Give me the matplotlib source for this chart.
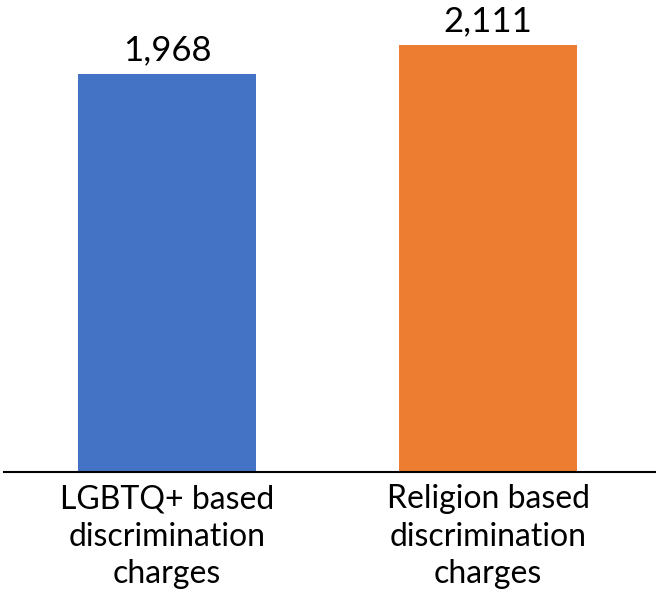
import matplotlib.pyplot as plt

# Discrimination charge counts
categories = ["LGBTQ+ based\ndiscrimination\ncharges", "Religion based\ndiscrimination\ncharges"]
charges = [1968, 2111]
colors = ["#4472C4", "#ED7D31"]

plt.rcParams['font.family'] = ['Lato', 'DejaVu Sans']

fig = plt.figure(figsize=(6.59, 5.98), dpi=100)
ax = fig.add_axes([0.006, 1 - 472 / 598, 0.988, 472 / 598])

x = range(len(categories))
bars = ax.bar(x, charges, width=0.556, color=colors)

ax.set_xlim(-0.508, 1.52)
ax.set_ylim(0, 2334)

for b, v in zip(bars, charges):
    ax.text(b.get_x() + b.get_width() / 2, v + 40, f"{v:,}",
            ha='center', va='bottom', fontsize=25)

ax.set_xticks(list(x))
ax.set_xticklabels(categories, fontsize=23, linespacing=1.3)
ax.tick_params(axis='x', length=0, pad=9)
ax.set_yticks([])

for side in ['top', 'left', 'right']:
    ax.spines[side].set_visible(False)
ax.spines['bottom'].set_linewidth(1.5)

fig.savefig("out.png", dpi=100)
